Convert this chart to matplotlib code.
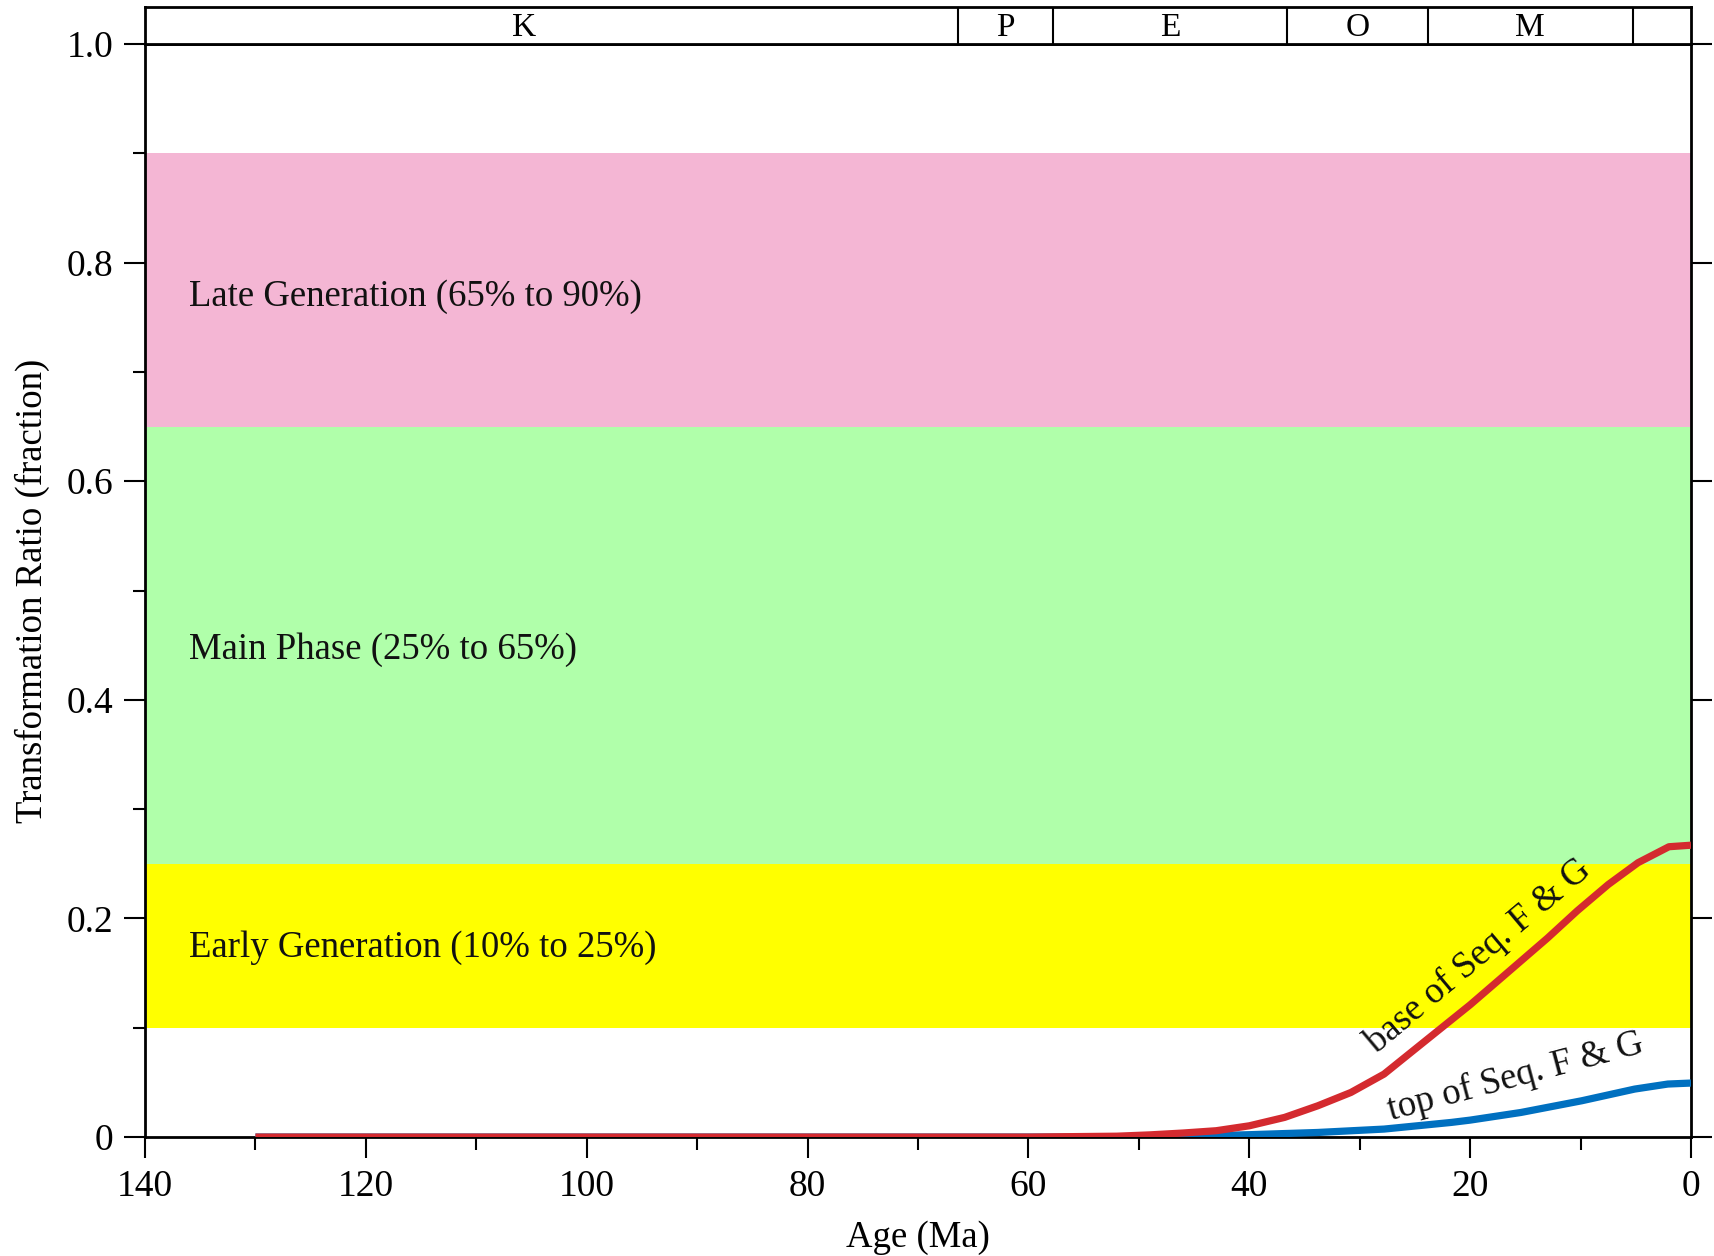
import numpy as np
import matplotlib.pyplot as plt
from matplotlib.ticker import MultipleLocator, FixedLocator

plt.rcParams['font.family'] = ['Liberation Serif', 'DejaVu Serif']

# transformation ratio through time (age in Ma, ratio as fraction)
age_base = [130, 100, 80, 60, 52, 49, 46, 43, 40, 36.8, 33.8, 30.8, 27.8, 24.8,
            20, 16.9, 13, 10.3, 7.5, 4.8, 2, 0]
tr_base = [0, 0, 0, 0, 0.0008, 0.002, 0.0037, 0.0058, 0.0103, 0.018, 0.0286, 0.0408, 0.0576,
           0.082, 0.121, 0.148, 0.182, 0.207, 0.231, 0.251, 0.2656, 0.267]
age_top = [130, 100, 80, 60, 50, 45, 39.9, 33.8, 27.8, 21.7, 20, 15.4, 9.9, 5.1, 2.1, 0]
tr_top = [0, 0, 0, 0, 0, 0.0008, 0.0022, 0.0042, 0.0073, 0.0134, 0.0155, 0.0225,
          0.0332, 0.0439, 0.0485, 0.0494]

# generation windows
zone_names = ['Early Generation (10% to 25%)', 'Main Phase (25% to 65%)', 'Late Generation (65% to 90%)']
zone_lo = [0.10, 0.25, 0.65]
zone_hi = [0.25, 0.65, 0.90]
zone_colors = ['#FFFF00', '#B0FFAA', '#F4B6D4']
zone_label_y = [0.173, 0.446, 0.769]

# periods / epochs along the top
period_names = ['K', 'P', 'E', 'O', 'M', '']
period_bounds = [145, 66.4, 57.8, 36.6, 23.8, 5.3, 0]

fig = plt.figure(figsize=(17.14, 12.56), dpi=100)
ax = fig.add_axes([0.0846, 0.0947, 0.9020, 0.8703])

for lo, hi, c in zip(zone_lo, zone_hi, zone_colors):
    ax.axhspan(lo, hi, color=c, lw=0, zorder=0)
for name, y in zip(zone_names, zone_label_y):
    ax.text(136, y, name, fontsize=26.5, ha='left', va='center', color='#111111')

ax.plot(age_top, tr_top, color='#0070C0', lw=5.2, zorder=3, solid_capstyle='butt')
ax.plot(age_base, tr_base, color='#D42A2F', lw=5.2, zorder=4, solid_capstyle='butt')

ax.text(19.2, 0.166, 'base of Seq. F & G', fontsize=26.5, rotation=40,
        ha='center', va='center', color='#111111', zorder=5)
ax.text(15.9, 0.055, 'top of Seq. F & G', fontsize=26.5, rotation=15,
        ha='center', va='center', color='#111111', zorder=5)

ax.set_xlim(140, 0)
ax.set_ylim(0, 1.0)
ax.xaxis.set_major_locator(MultipleLocator(20))
ax.xaxis.set_minor_locator(MultipleLocator(10))
ax.yaxis.set_major_locator(FixedLocator([0, 0.2, 0.4, 0.6, 0.8, 1.0]))
ax.yaxis.set_minor_locator(MultipleLocator(0.1))
ax.set_yticklabels(['0', '0.2', '0.4', '0.6', '0.8', '1.0'])
ax.tick_params(axis='both', which='major', direction='out', length=15, width=1.5,
               labelsize=27, pad=8)
ax.tick_params(axis='both', which='minor', direction='out', length=9, width=1.5)
ax.tick_params(axis='y', right=True)
ax.tick_params(axis='x', top=False)
for s in ax.spines.values():
    s.set_linewidth(2)

ax.set_xlabel('Age (Ma)', fontsize=26.5, labelpad=12)
ax.set_ylabel('Transformation Ratio (fraction)', fontsize=26.5, labelpad=12)

# period strip above the plot
axp = fig.add_axes([0.0846, 0.965, 0.9020, 0.0295])
axp.set_xlim(140, 0)
axp.set_ylim(0, 1)
axp.set_xticks([])
axp.set_yticks([])
for s in axp.spines.values():
    s.set_linewidth(2)
for i, name in enumerate(period_names):
    a, b = period_bounds[i], period_bounds[i + 1]
    if i > 0:
        axp.axvline(a, color='black', lw=1.5)
    axp.text((a + b) / 2, 0.45, name, fontsize=24, ha='center', va='center')

fig.savefig('out.png', dpi=100)
